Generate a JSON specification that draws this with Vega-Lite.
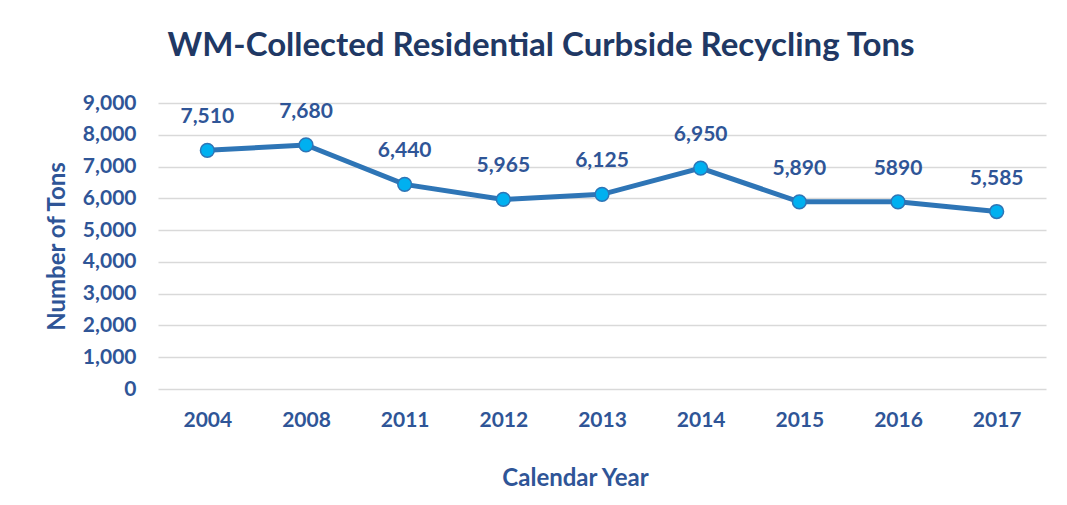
{
  "$schema": "https://vega.github.io/schema/vega-lite/v6.json",
  "width": 888,
  "height": 286,
  "autosize": {"type": "none"},
  "padding": {"left": 158, "top": 103, "right": 21, "bottom": 116},
  "background": "white",
  "title": {
    "text": "WM-Collected Residential Curbside Recycling Tons",
    "font": "Lato",
    "fontSize": 33,
    "fontWeight": "bold",
    "color": "#203864",
    "anchor": "middle",
    "dx": -61,
    "offset": 29
  },
  "data": {
    "values": [
      {"year": "2004", "tons": 7510, "label": "7,510"},
      {"year": "2008", "tons": 7680, "label": "7,680"},
      {"year": "2011", "tons": 6440, "label": "6,440"},
      {"year": "2012", "tons": 5965, "label": "5,965"},
      {"year": "2013", "tons": 6125, "label": "6,125"},
      {"year": "2014", "tons": 6950, "label": "6,950"},
      {"year": "2015", "tons": 5890, "label": "5,890"},
      {"year": "2016", "tons": 5890, "label": "5890"},
      {"year": "2017", "tons": 5585, "label": "5,585"}
    ]
  },
  "encoding": {
    "x": {
      "field": "year",
      "type": "ordinal",
      "sort": null,
      "scale": {"type": "point", "padding": 0.5},
      "axis": {
        "title": "Calendar Year",
        "labelAngle": 0,
        "domain": false,
        "ticks": false,
        "labelPadding": 20,
        "labelFont": "Lato",
        "labelFontSize": 21,
        "labelFontWeight": "bold",
        "labelColor": "#2F5597",
        "titleFont": "Lato",
        "titleFontSize": 24,
        "titleFontWeight": "bold",
        "titleColor": "#2F5597",
        "titleX": 417,
        "titleY": 89,
        "titleBaseline": "middle",
        "titleAnchor": "middle"
      }
    },
    "y": {
      "field": "tons",
      "type": "quantitative",
      "scale": {"domain": [0, 9000], "nice": false},
      "axis": {
        "title": "Number of Tons",
        "values": [0, 1000, 2000, 3000, 4000, 5000, 6000, 7000, 8000, 9000],
        "format": ",d",
        "domain": false,
        "ticks": false,
        "grid": true,
        "gridColor": "#D9D9D9",
        "gridWidth": 1.5,
        "labelPadding": 22,
        "labelFont": "Lato",
        "labelFontSize": 21,
        "labelFontWeight": "bold",
        "labelColor": "#2F5597",
        "titleFont": "Lato",
        "titleFontSize": 24,
        "titleFontWeight": "bold",
        "titleColor": "#2F5597",
        "titleX": -101,
        "titleY": 143,
        "titleAngle": -90,
        "titleBaseline": "middle",
        "titleAnchor": "middle"
      }
    }
  },
  "layer": [
    {
      "mark": {"type": "line", "color": "#2E75B6", "strokeWidth": 5}
    },
    {
      "mark": {"type": "point", "filled": true, "fill": "#00B0F0", "stroke": "#2E75B6", "strokeWidth": 1.5, "size": 190, "opacity": 1}
    },
    {
      "mark": {"type": "text", "dy": -33, "baseline": "middle", "font": "Lato", "fontSize": 21, "fontWeight": "bold", "color": "#2F5597"},
      "encoding": {"text": {"field": "label"}}
    }
  ],
  "config": {"view": {"stroke": null}}
}
